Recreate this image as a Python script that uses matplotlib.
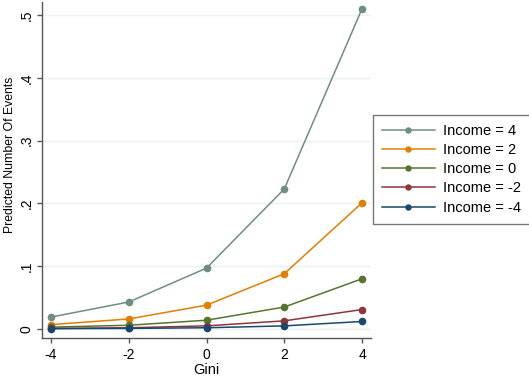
import matplotlib
matplotlib.use("Agg")
import matplotlib.pyplot as plt

plt.rcParams['font.family'] = ['Liberation Sans', 'DejaVu Sans']

gini = [-4, -2, 0, 2, 4]
income_labels = ["Income = 4", "Income = 2", "Income = 0", "Income = -2", "Income = -4"]
inc_4 = [0.019, 0.043, 0.097, 0.223, 0.510]
inc_2 = [0.007, 0.016, 0.038, 0.088, 0.201]
inc_0 = [0.003, 0.006, 0.014, 0.035, 0.080]
inc_m2 = [0.001, 0.002, 0.005, 0.013, 0.031]
inc_m4 = [0.0005, 0.001, 0.002, 0.005, 0.012]
series = [inc_4, inc_2, inc_0, inc_m2, inc_m4]
colors = ["#6e8e84", "#e37e00", "#55752f", "#90353b", "#1a476f"]
yticks = [0, 0.1, 0.2, 0.3, 0.4, 0.5]
ytick_labels = ["0", ".1", ".2", ".3", ".4", ".5"]
xticks = [-4, -2, 0, 2, 4]

fig = plt.figure(figsize=(5.29, 3.78), dpi=100)
ax = fig.add_axes([42/529, 1-338/378, (371-42)/529, (338-2)/378])

for vals, c, lab in zip(series, colors, income_labels):
    ax.plot(gini, vals, color=c, lw=1.1, marker='o', ms=4.5, label=lab, zorder=3)

ax.set_xlim(-4.23, 4.23)
ax.set_ylim(-0.0143, 0.5207)
ax.set_yticks(yticks)
ax.set_yticklabels(ytick_labels, rotation=90, va='center')
ax.set_xticks(xticks)
ax.set_xticklabels([str(x) for x in xticks])
ax.grid(axis='y', color='#eaf2f3', lw=1.0, zorder=0)
for s in ['top', 'right']:
    ax.spines[s].set_visible(False)
for s in ['left', 'bottom']:
    ax.spines[s].set_color('#555555')
    ax.spines[s].set_linewidth(1.0)
ax.tick_params(axis='both', colors='#555555', labelcolor='black', labelsize=10, length=3.5, width=1.0)
ax.tick_params(axis='y', pad=2.5)
ax.set_xlabel("Gini", fontsize=10.5, labelpad=1)
ax.set_ylabel("Predicted Number Of Events", fontsize=8.8, va='center')
ax.yaxis.set_label_coords((10-42)/329, (338-155)/336)

leg = ax.legend(loc='upper left', bbox_to_anchor=(373/529, 1-115/378), bbox_transform=fig.transFigure,
                frameon=True, fancybox=False, shadow=False, fontsize=10.5, handlelength=3.65,
                borderpad=0.6, labelspacing=0.36, handletextpad=0.55, borderaxespad=0,
                markerscale=0.8)
leg.get_frame().set_edgecolor('#555555')
leg.get_frame().set_linewidth(1.0)

fig.savefig("out.png", dpi=100)
